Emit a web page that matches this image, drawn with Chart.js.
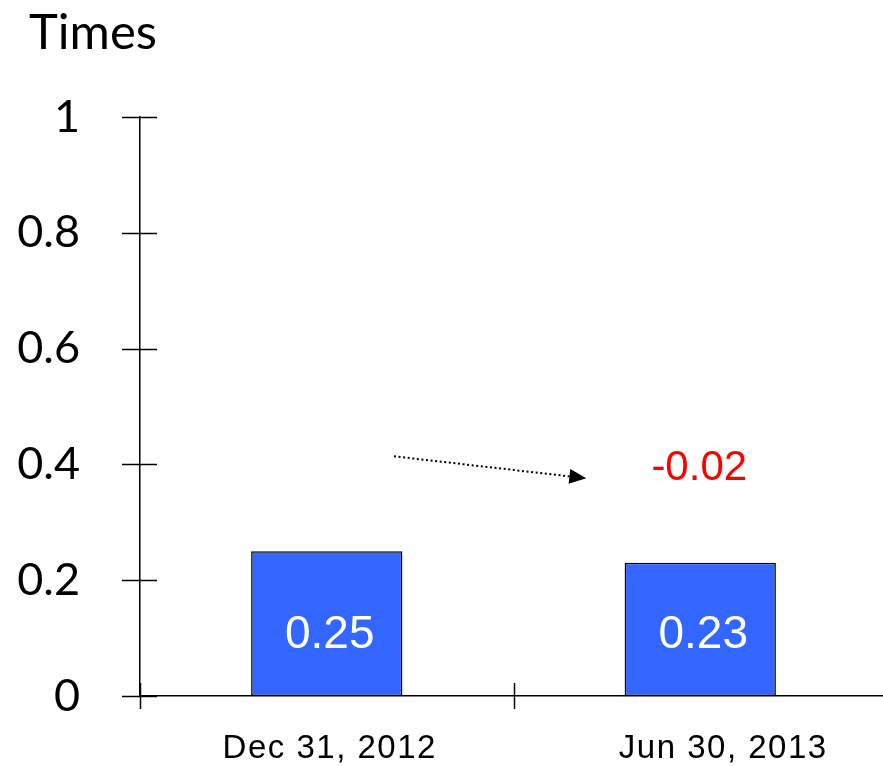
<!DOCTYPE html>
<html>
<head>
<meta charset="utf-8">
<script src="https://cdn.jsdelivr.net/npm/chart.js@4/dist/chart.umd.min.js"></script>
<style>
  html, body { margin: 0; padding: 0; background: #fff; overflow: hidden; }
  #wrap { position: relative; width: 887px; height: 766px; }
</style>
</head>
<body>
<div id="wrap"><canvas id="c"></canvas></div>
<script>
// Asset turnover, two reporting dates
const categories = ['Dec 31, 2012', 'Jun 30, 2013'];
const values = [0.25, 0.23];
const yTicks = [0, 0.2, 0.4, 0.6, 0.8, 1];
const unitLabel = 'Times';

const change = values[1] - values[0];

const overlay = {
  id: 'overlay',
  afterDraw(chart) {
    const ctx = chart.ctx;
    const xs = chart.scales.x, ys = chart.scales.y;
    const area = chart.chartArea;
    const step = xs.getPixelForValue(1) - xs.getPixelForValue(0);
    ctx.save();

    // crossing tick marks on the value axis
    ctx.strokeStyle = '#000';
    ctx.lineWidth = 1.5;
    yTicks.forEach(v => {
      const y = Math.round(ys.getPixelForValue(v)) + 0.5;
      ctx.beginPath();
      ctx.moveTo(area.left - 18, y);
      ctx.lineTo(area.left + 17, y);
      ctx.stroke();
    });
    // crossing tick marks at category boundaries
    for (let i = 0; i <= categories.length; i++) {
      const x = Math.round(xs.getPixelForValue(i) - step / 2) + 0.5;
      ctx.beginPath();
      ctx.moveTo(x, area.bottom - 13);
      ctx.lineTo(x, area.bottom + 13);
      ctx.stroke();
    }

    // unit label
    ctx.fillStyle = '#000';
    ctx.font = '49px Lato';
    ctx.textAlign = 'center';
    ctx.textBaseline = 'middle';
    ctx.fillText(unitLabel, 93, 33);

    // category labels
    ctx.font = '33px "Liberation Sans"';
    ctx.letterSpacing = '1.5px';
    const nudge = [3, 23];
    categories.forEach((c, i) => {
      ctx.fillText(c, xs.getPixelForValue(i) + nudge[i], 749);
    });
    ctx.letterSpacing = '0px';

    // value labels inside bars
    ctx.fillStyle = '#fff';
    ctx.font = '46px "Liberation Sans"';
    const meta = chart.getDatasetMeta(0);
    meta.data.forEach((bar, i) => {
      ctx.fillText(values[i].toFixed(2), bar.x + 3, ys.getPixelForValue(0) - 61);
    });

    // change between the two dates
    ctx.fillStyle = '#ff0000';
    ctx.font = '42px "Liberation Sans"';
    ctx.fillText(change.toFixed(2), xs.getPixelForValue(1) - 1, ys.getPixelForValue(0.393));

    // dotted arrow
    const x0 = xs.getPixelForValue(0) + 0.18 * step;
    const y0 = ys.getPixelForValue(0.414);
    const x1 = xs.getPixelForValue(0) + 0.695 * step;
    const y1 = ys.getPixelForValue(0.376);
    const ang = Math.atan2(y1 - y0, x1 - x0);
    const headLen = 17, headHalf = 7.5;
    const bx = x1 - headLen * Math.cos(ang), by = y1 - headLen * Math.sin(ang);
    ctx.strokeStyle = '#000';
    ctx.lineWidth = 2;
    ctx.setLineDash([2, 2.6]);
    ctx.beginPath();
    ctx.moveTo(x0, y0);
    ctx.lineTo(bx, by);
    ctx.stroke();
    ctx.setLineDash([]);
    ctx.fillStyle = '#000';
    ctx.beginPath();
    ctx.moveTo(x1, y1);
    ctx.lineTo(bx + headHalf * Math.sin(ang), by - headHalf * Math.cos(ang));
    ctx.lineTo(bx - headHalf * Math.sin(ang), by + headHalf * Math.cos(ang));
    ctx.closePath();
    ctx.fill();

    ctx.restore();
  }
};

new Chart(document.getElementById('c'), {
  type: 'bar',
  data: {
    labels: categories,
    datasets: [{
      data: values,
      backgroundColor: '#3366ff',
      borderColor: '#000',
      borderWidth: 1.5,
      borderSkipped: false,
      categoryPercentage: 1,
      barPercentage: 0.405
    }]
  },
  options: {
    responsive: true,
    maintainAspectRatio: false,
    animation: false,
    layout: { padding: { top: 117, right: 0, bottom: 0, left: 0 } },
    plugins: { legend: { display: false }, tooltip: { enabled: false } },
    scales: {
      x: {
        grid: { display: false },
        border: { display: true, color: '#000', width: 1.5 },
        ticks: { display: false },
        afterFit(s) { s.height = 70; }
      },
      y: {
        min: 0,
        max: 1,
        afterBuildTicks(s) { s.ticks = yTicks.map(v => ({ value: v })); },
        grid: { display: false },
        border: { display: true, color: '#000', width: 1.5 },
        ticks: {
          color: '#000',
          font: { family: 'Lato', size: 45, lineHeight: 0.2 },
          padding: 52,
          callback: v => String(v)
        },
        afterFit(s) { s.width = 140; }
      }
    }
  },
  plugins: [overlay]
});
</script>
</body>
</html>
